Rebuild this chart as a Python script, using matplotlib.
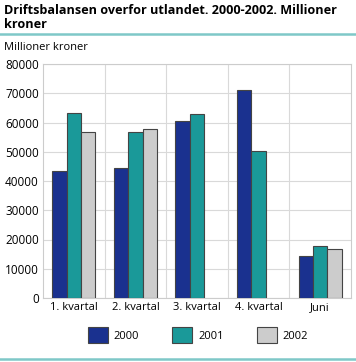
import matplotlib
matplotlib.use('Agg')
import matplotlib.pyplot as plt
import numpy as np
from matplotlib.lines import Line2D

plt.rcParams['font.family'] = ['Open Sans', 'DejaVu Sans']

# Data
categories = ['1. kvartal', '2. kvartal', '3. kvartal', '4. kvartal', 'Juni']
years = ['2000', '2001', '2002']
v2000 = [43500, 44300, 60600, 71000, 14250]
v2001 = [63350, 56900, 63000, 50400, 17650]
v2002 = [56900, 57900, np.nan, np.nan, 16650]
colors = ['#1a318f', '#1a9999', '#cccccc']
yticks = [0, 10000, 20000, 30000, 40000, 50000, 60000, 70000, 80000]

W, H = 356, 362
fig = plt.figure(figsize=(W / 100, H / 100), dpi=100)
ax = fig.add_axes([43 / W, 1 - 298 / H, (351 - 43) / W, (298 - 64) / H])

x = np.arange(len(categories))
bw = 0.233
series = [v2000, v2001, v2002]
for i, vals in enumerate(series):
    ax.bar(x + (i - 1) * bw, vals, width=bw, color=colors[i],
           edgecolor='#444444', linewidth=0.8, label=years[i], zorder=3)

ax.set_xlim(-0.5, len(categories) - 0.5)
ax.set_ylim(0, 80000)
ax.set_yticks(yticks)
ax.set_yticklabels([str(t) for t in yticks], fontsize=8.5)
ax.set_xticks(x)
ax.set_xticklabels(categories, fontsize=8)
ax.set_xticks(np.arange(0.5, len(categories) - 0.5, 1), minor=True)
ax.tick_params(axis='both', which='both', length=0, pad=3)
ax.grid(axis='y', color='#d9d9d9', linewidth=0.8, zorder=0)
ax.grid(axis='x', which='minor', color='#d9d9d9', linewidth=0.8, zorder=0)
for s in ax.spines.values():
    s.set_color('#cccccc')
    s.set_linewidth(0.8)

fig.text(4 / W, 1 - 11 / H, 'Driftsbalansen overfor utlandet. 2000-2002. Millioner',
         fontsize=9.1, fontweight='bold', va='center', ha='left')
fig.text(4 / W, 1 - 25 / H, 'kroner', fontsize=9.1, fontweight='bold',
         va='center', ha='left')
fig.add_artist(Line2D([0, 1], [1 - 33.5 / H] * 2, color='#7fc8c8', linewidth=1.8))
fig.text(4 / W, 1 - 47 / H, 'Millioner kroner', fontsize=8, va='center', ha='left')
fig.add_artist(Line2D([0, 1], [1 - 358.5 / H] * 2, color='#7fc8c8', linewidth=1.8))

leg = fig.legend(loc='center', bbox_to_anchor=(198 / W, 1 - 335 / H), ncol=3,
                 frameon=False, fontsize=8, handlelength=1.8, handleheight=1.8,
                 columnspacing=3.0, handletextpad=0.5)

fig.savefig('out.png', dpi=100)
